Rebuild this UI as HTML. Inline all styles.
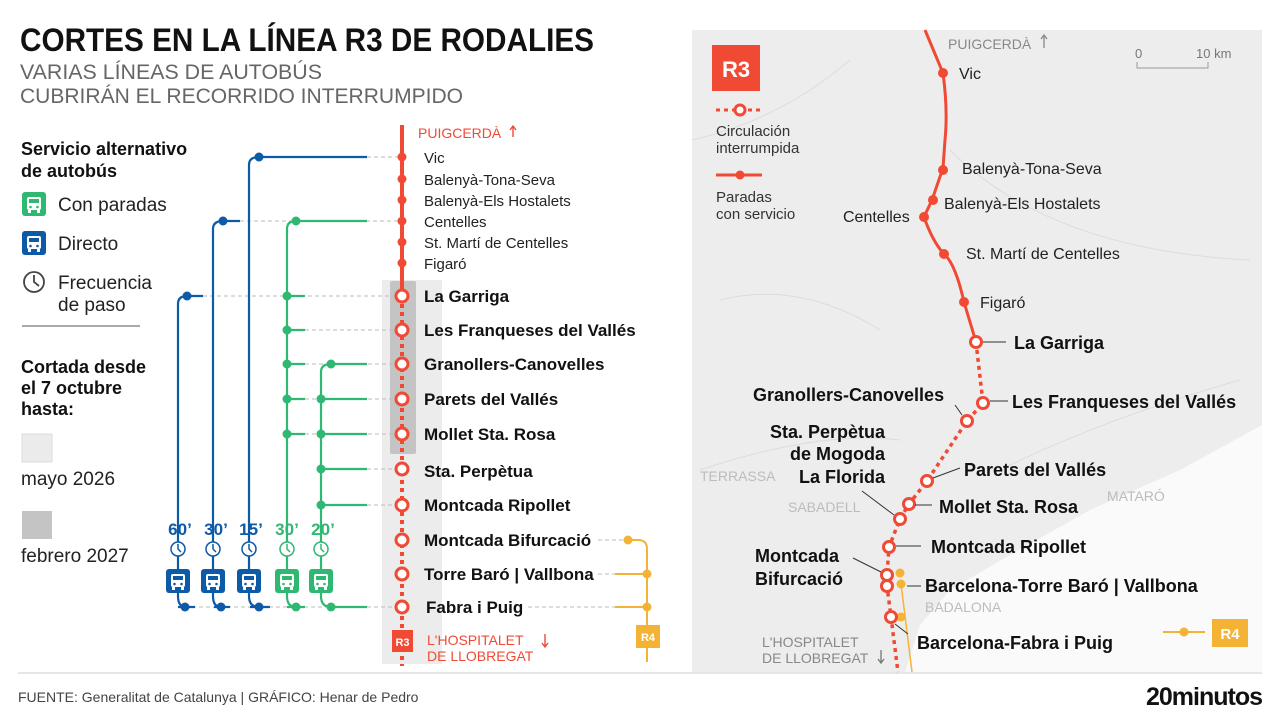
<!DOCTYPE html>
<html><head><meta charset="utf-8"><style>
html,body{margin:0;padding:0;background:#fff}
svg{display:block}
text{font-family:"Liberation Sans",sans-serif}
</style></head><body>
<svg width="1280" height="720" viewBox="0 0 1280 720" xmlns="http://www.w3.org/2000/svg">
<defs>
<g id="busB"><rect x="-12" y="-12" width="24" height="24" rx="3" fill="#0d5aa7"/><rect x="-7" y="-7" width="14" height="13" rx="2" fill="#fff"/><rect x="-5" y="-5" width="10" height="4" fill="#0d5aa7"/><circle cx="-3.5" cy="3" r="1.3" fill="#0d5aa7"/><circle cx="3.5" cy="3" r="1.3" fill="#0d5aa7"/><rect x="-6" y="6" width="3" height="3" fill="#fff"/><rect x="3" y="6" width="3" height="3" fill="#fff"/></g>
<g id="busG"><rect x="-12" y="-12" width="24" height="24" rx="3" fill="#2eb872"/><rect x="-7" y="-7" width="14" height="13" rx="2" fill="#fff"/><rect x="-5" y="-5" width="10" height="4" fill="#2eb872"/><circle cx="-3.5" cy="3" r="1.3" fill="#2eb872"/><circle cx="3.5" cy="3" r="1.3" fill="#2eb872"/><rect x="-6" y="6" width="3" height="3" fill="#fff"/><rect x="3" y="6" width="3" height="3" fill="#fff"/></g>
</defs>

<!-- Title -->
<text x="20" y="51" font-size="32" font-weight="bold" fill="#111" textLength="574" lengthAdjust="spacingAndGlyphs">CORTES EN LA LÍNEA R3 DE RODALIES</text>
<text x="20" y="79" font-size="21" fill="#666" textLength="302" lengthAdjust="spacingAndGlyphs">VARIAS LÍNEAS DE AUTOBÚS</text>
<text x="20" y="103" font-size="21" fill="#666" textLength="443" lengthAdjust="spacingAndGlyphs">CUBRIRÁN EL RECORRIDO INTERRUMPIDO</text>

<!-- Legend left -->
<text x="21" y="155" font-size="18" font-weight="bold" fill="#111">Servicio alternativo</text>
<text x="21" y="177" font-size="18" font-weight="bold" fill="#111">de autobús</text>
<use href="#busG" x="34" y="204"/>
<text x="58" y="211" font-size="19" fill="#222">Con paradas</text>
<use href="#busB" x="34" y="243"/>
<text x="58" y="250" font-size="19" fill="#222">Directo</text>
<circle cx="34" cy="282" r="10" fill="none" stroke="#444" stroke-width="1.8"/><path d="M34 275v7l5 4" fill="none" stroke="#444" stroke-width="1.8"/>
<text x="58" y="289" font-size="19" fill="#222">Frecuencia</text>
<text x="58" y="311" font-size="19" fill="#222">de paso</text>
<line x1="22" y1="326" x2="140" y2="326" stroke="#555" stroke-width="1"/>
<text x="21" y="373" font-size="18" font-weight="bold" fill="#111">Cortada desde</text>
<text x="21" y="394" font-size="18" font-weight="bold" fill="#111">el 7 octubre</text>
<text x="21" y="415" font-size="18" font-weight="bold" fill="#111">hasta:</text>
<rect x="22" y="434" width="30" height="28" fill="#ebebeb" stroke="#ddd"/>
<text x="21" y="485" font-size="19" fill="#222">mayo 2026</text>
<rect x="22" y="511" width="30" height="28" fill="#c4c4c4"/>
<text x="21" y="562" font-size="19" fill="#222">febrero 2027</text>

<!-- gray bands -->
<rect x="382" y="280" width="60" height="384" fill="#ececec"/>
<rect x="390" y="281" width="26" height="173" rx="2" fill="#c4c4c4"/>

<!-- dashed gray connectors -->
<g stroke="#bbb" stroke-width="1" stroke-dasharray="4 3">
<line x1="367" y1="157" x2="398" y2="157"/>
<line x1="240" y1="221" x2="398" y2="221"/>
<line x1="203" y1="296" x2="396" y2="296"/>
<line x1="305" y1="330" x2="396" y2="330"/>
<line x1="305" y1="364" x2="396" y2="364"/>
<line x1="305" y1="399" x2="396" y2="399"/>
<line x1="305" y1="434" x2="396" y2="434"/>
<line x1="367" y1="469" x2="396" y2="469"/>
<line x1="367" y1="505" x2="396" y2="505"/>
<line x1="178" y1="607" x2="396" y2="607"/>
<line x1="598" y1="540" x2="628" y2="540"/>
<line x1="598" y1="574" x2="615" y2="574"/>
<line x1="528" y1="607" x2="615" y2="607"/>
</g>

<!-- blue lines -->
<g stroke="#0d5aa7" stroke-width="2.2" fill="none">
<path d="M178 570V304q0-8 9-8h16"/>
<path d="M213 570V229q0-8 10-8h17"/>
<path d="M249 570V165q0-8 10-8h108"/>
<path d="M178 582v14q0 11 8 11"/><path d="M213 582v14q0 11 8 11"/><path d="M249 582v14q0 11 10 11"/>
<line x1="178" y1="607" x2="195" y2="607"/><line x1="214" y1="607" x2="230" y2="607"/><line x1="250" y1="607" x2="270" y2="607"/>
</g>
<g fill="#0d5aa7"><circle cx="187" cy="296" r="4.5"/><circle cx="223" cy="221" r="4.5"/><circle cx="259" cy="157" r="4.5"/><circle cx="185" cy="607" r="4.5"/><circle cx="221" cy="607" r="4.5"/><circle cx="259" cy="607" r="4.5"/></g>

<!-- green lines -->
<g stroke="#2eb872" stroke-width="2.2" fill="none">
<path d="M287 570V229q0-8 9-8h71"/>
<path d="M321 570V372q0-8 10-8h36"/>
<line x1="287" y1="296" x2="305" y2="296"/><line x1="287" y1="330" x2="305" y2="330"/>
<line x1="287" y1="364" x2="305" y2="364"/><line x1="287" y1="399" x2="305" y2="399"/><line x1="287" y1="434" x2="305" y2="434"/>
<line x1="321" y1="399" x2="367" y2="399"/><line x1="321" y1="434" x2="367" y2="434"/>
<line x1="321" y1="469" x2="367" y2="469"/><line x1="321" y1="505" x2="367" y2="505"/>
<path d="M287 582v14q0 11 9 11"/><path d="M321 582v14q0 11 10 11h36"/>
<line x1="287" y1="607" x2="305" y2="607"/>
</g>
<g fill="#2eb872"><circle cx="296" cy="221" r="4.5"/><circle cx="287" cy="296" r="4.5"/><circle cx="287" cy="330" r="4.5"/><circle cx="287" cy="364" r="4.5"/><circle cx="287" cy="399" r="4.5"/><circle cx="287" cy="434" r="4.5"/><circle cx="331" cy="364" r="4.5"/><circle cx="321" cy="399" r="4.5"/><circle cx="321" cy="434" r="4.5"/><circle cx="321" cy="469" r="4.5"/><circle cx="321" cy="505" r="4.5"/><circle cx="296" cy="607" r="4.5"/><circle cx="331" cy="607" r="4.5"/></g>

<!-- frequency labels, clocks, buses -->
<g font-size="17" font-weight="bold" text-anchor="middle">
<text x="180" y="535" fill="#0d5aa7">60’</text><text x="216" y="535" fill="#0d5aa7">30’</text><text x="251" y="535" fill="#0d5aa7">15’</text>
<text x="287" y="535" fill="#2eb872">30’</text><text x="323" y="535" fill="#2eb872">20’</text>
</g>
<g fill="#fff" stroke-width="1.5">
<circle cx="178" cy="549" r="7" stroke="#0d5aa7"/><circle cx="213" cy="549" r="7" stroke="#0d5aa7"/><circle cx="249" cy="549" r="7" stroke="#0d5aa7"/>
<circle cx="287" cy="549" r="7" stroke="#2eb872"/><circle cx="321" cy="549" r="7" stroke="#2eb872"/>
</g>
<g fill="none" stroke-width="1.5">
<path d="M178 544v5l3 3" stroke="#0d5aa7"/><path d="M213 544v5l3 3" stroke="#0d5aa7"/><path d="M249 544v5l3 3" stroke="#0d5aa7"/>
<path d="M287 544v5l3 3" stroke="#2eb872"/><path d="M321 544v5l3 3" stroke="#2eb872"/>
<line x1="178" y1="556" x2="178" y2="570" stroke="#0d5aa7"/><line x1="213" y1="556" x2="213" y2="570" stroke="#0d5aa7"/><line x1="249" y1="556" x2="249" y2="570" stroke="#0d5aa7"/>
<line x1="287" y1="556" x2="287" y2="570" stroke="#2eb872"/><line x1="321" y1="556" x2="321" y2="570" stroke="#2eb872"/>
</g>
<use href="#busB" x="178" y="581"/><use href="#busB" x="213" y="581"/><use href="#busB" x="249" y="581"/>
<use href="#busG" x="287" y="581"/><use href="#busG" x="321" y="581"/>

<!-- R3 line left -->
<line x1="402" y1="125" x2="402" y2="290" stroke="#f04a35" stroke-width="4"/>
<line x1="402" y1="296" x2="402" y2="666" stroke="#f04a35" stroke-width="4" stroke-dasharray="4 4"/>
<g fill="#f04a35"><circle cx="402" cy="157" r="4.5"/><circle cx="402" cy="179" r="4.5"/><circle cx="402" cy="200" r="4.5"/><circle cx="402" cy="221" r="4.5"/><circle cx="402" cy="242" r="4.5"/><circle cx="402" cy="263" r="4.5"/></g>
<g fill="#fff" stroke="#f04a35" stroke-width="3">
<circle cx="402" cy="296" r="6"/><circle cx="402" cy="330" r="6"/><circle cx="402" cy="364" r="6"/><circle cx="402" cy="399" r="6"/><circle cx="402" cy="434" r="6"/><circle cx="402" cy="469" r="6"/><circle cx="402" cy="505" r="6"/><circle cx="402" cy="540" r="6"/><circle cx="402" cy="574" r="6"/><circle cx="402" cy="607" r="6"/>
</g>
<text x="418" y="138" font-size="14" fill="#f04a35">PUIGCERDÀ</text>
<path d="M513 137v-11m-3 4l3-4l3 4" stroke="#f04a35" stroke-width="1.4" fill="none"/>
<g font-size="15" fill="#222">
<text x="424" y="163">Vic</text><text x="424" y="185">Balenyà-Tona-Seva</text><text x="424" y="206">Balenyà-Els Hostalets</text>
<text x="424" y="227">Centelles</text><text x="424" y="248">St. Martí de Centelles</text><text x="424" y="269">Figaró</text>
</g>
<g font-size="17" font-weight="bold" fill="#111">
<text x="424" y="302">La Garriga</text><text x="424" y="336">Les Franqueses del Vallés</text><text x="424" y="370">Granollers-Canovelles</text>
<text x="424" y="405">Parets del Vallés</text><text x="424" y="440">Mollet Sta. Rosa</text><text x="424" y="477">Sta. Perpètua</text>
<text x="424" y="511">Montcada Ripollet</text><text x="424" y="546">Montcada Bifurcació</text><text x="424" y="580">Torre Baró | Vallbona</text>
<text x="426" y="613">Fabra i Puig</text>
</g>
<rect x="392" y="630" width="21" height="22" fill="#f04a35"/>
<text x="402.5" y="646" font-size="11" font-weight="bold" fill="#fff" text-anchor="middle">R3</text>
<text x="427" y="645" font-size="14" fill="#f04a35">L'HOSPITALET</text>
<text x="427" y="661" font-size="14" fill="#f04a35">DE LLOBREGAT</text>
<path d="M545 634v13m-3-4l3 4l3-4" stroke="#f04a35" stroke-width="1.4" fill="none"/>

<!-- R4 left -->
<g stroke="#f5b335" stroke-width="2" fill="none">
<path d="M628 540h10q9 0 9 9V662"/>
<line x1="615" y1="574" x2="647" y2="574"/><line x1="615" y1="607" x2="647" y2="607"/>
</g>
<g fill="#f5b335"><circle cx="628" cy="540" r="4.5"/><circle cx="647" cy="574" r="4.5"/><circle cx="647" cy="607" r="4.5"/></g>
<rect x="636" y="625" width="24" height="23" fill="#f5b335"/>
<text x="648" y="641" font-size="11" font-weight="bold" fill="#fff" text-anchor="middle">R4</text>

<!-- MAP -->
<rect x="692" y="30" width="570" height="642" fill="#ededed"/>
<path d="M1262 425L1180 470L1090 510L1010 555L950 590L920 625L905 672H1262Z" fill="#fafafa"/>
<g stroke="#dcdcdc" stroke-width="1" fill="none">
<path d="M692 140Q780 120 850 60"/><path d="M700 470Q820 430 900 440"/><path d="M950 150Q1050 250 1250 260"/><path d="M720 300Q800 280 880 330"/><path d="M1000 470Q1100 420 1240 380"/>
</g>
<g font-size="14" fill="#bcbcbc">
<text x="700" y="481">TERRASSA</text><text x="788" y="512">SABADELL</text><text x="1107" y="501">MATARÓ</text><text x="925" y="612">BADALONA</text>
</g>
<text x="948" y="49" font-size="14" fill="#888">PUIGCERDÀ</text>
<path d="M1044 48v-13m-3 4l3-4l3 4" stroke="#888" stroke-width="1.3" fill="none"/>
<text x="1135" y="58" font-size="13" fill="#777">0</text><text x="1196" y="58" font-size="13" fill="#777">10 km</text>
<path d="M1137 62v6h71v-6" stroke="#999" stroke-width="1" fill="none"/>

<rect x="712" y="45" width="48" height="46" fill="#f04a35"/>
<text x="736" y="77" font-size="22" font-weight="bold" fill="#fff" text-anchor="middle">R3</text>
<line x1="716" y1="110" x2="762" y2="110" stroke="#f04a35" stroke-width="3" stroke-dasharray="4 4"/>
<circle cx="740" cy="110" r="5" fill="#fff" stroke="#f04a35" stroke-width="3"/>
<text x="716" y="136" font-size="15" fill="#333">Circulación</text><text x="716" y="153" font-size="15" fill="#333">interrumpida</text>
<line x1="716" y1="175" x2="762" y2="175" stroke="#f04a35" stroke-width="3"/><circle cx="740" cy="175" r="4.5" fill="#f04a35"/>
<text x="716" y="202" font-size="15" fill="#333">Paradas</text><text x="716" y="219" font-size="15" fill="#333">con servicio</text>

<path d="M925 30L943 73Q948 110 945 140L943 168L932 200L924 217Q932 240 943 253Q955 262 964 302L976 342" stroke="#f04a35" stroke-width="3" fill="none"/>
<path d="M976 342L983 403L967 421L927 481L909 504L900 519L889 547L887 575L887 586L891 617L898 672" stroke="#f04a35" stroke-width="3.5" fill="none" stroke-dasharray="4 4"/>
<path d="M901 584L912 672" stroke="#f5b335" stroke-width="1.5"/>
<g fill="#f5b335"><circle cx="900" cy="573" r="4.5"/><circle cx="901" cy="584" r="4.5"/><circle cx="901" cy="617" r="4.5"/></g>
<g fill="#f04a35"><circle cx="943" cy="73" r="5"/><circle cx="943" cy="170" r="5"/><circle cx="933" cy="200" r="5"/><circle cx="924" cy="217" r="5"/><circle cx="944" cy="254" r="5"/><circle cx="964" cy="302" r="5"/></g>
<g fill="#fff" stroke="#f04a35" stroke-width="3">
<circle cx="976" cy="342" r="5.5"/><circle cx="983" cy="403" r="5.5"/><circle cx="967" cy="421" r="5.5"/><circle cx="927" cy="481" r="5.5"/><circle cx="909" cy="504" r="5.5"/><circle cx="900" cy="519" r="5.5"/><circle cx="889" cy="547" r="5.5"/><circle cx="887" cy="575" r="5.5"/><circle cx="887" cy="586" r="5.5"/><circle cx="891" cy="617" r="5.5"/>
</g>
<g stroke="#333" stroke-width="1">
<line x1="983" y1="342" x2="1006" y2="342"/><line x1="990" y1="401" x2="1008" y2="401"/><line x1="955" y1="405" x2="962" y2="415"/>
<line x1="933" y1="478" x2="960" y2="468"/><line x1="915" y1="505" x2="932" y2="505"/><line x1="862" y1="491" x2="894" y2="515"/>
<line x1="896" y1="546" x2="921" y2="546"/><line x1="853" y1="558" x2="881" y2="572"/><line x1="907" y1="586" x2="921" y2="586"/><line x1="895" y1="624" x2="908" y2="634"/>
</g>
<g font-size="16" fill="#222">
<text x="959" y="79">Vic</text><text x="962" y="174">Balenyà-Tona-Seva</text><text x="944" y="209">Balenyà-Els Hostalets</text>
<text x="843" y="222">Centelles</text><text x="966" y="259">St. Martí de Centelles</text><text x="980" y="308">Figaró</text>
</g>
<g font-size="18" font-weight="bold" fill="#111">
<text x="1014" y="349">La Garriga</text><text x="1012" y="408">Les Franqueses del Vallés</text>
<text x="753" y="401">Granollers-Canovelles</text>
<text x="885" y="438" text-anchor="end">Sta. Perpètua</text><text x="885" y="460" text-anchor="end">de Mogoda</text><text x="885" y="483" text-anchor="end">La Florida</text>
<text x="964" y="476">Parets del Vallés</text><text x="939" y="513">Mollet Sta. Rosa</text>
<text x="931" y="553">Montcada Ripollet</text>
<text x="755" y="562">Montcada</text><text x="755" y="585">Bifurcació</text>
<text x="925" y="592">Barcelona-Torre Baró | Vallbona</text>
<text x="917" y="649">Barcelona-Fabra i Puig</text>
</g>
<text x="762" y="647" font-size="14" fill="#888">L'HOSPITALET</text><text x="762" y="663" font-size="14" fill="#888">DE LLOBREGAT</text>
<path d="M881 650v13m-3-4l3 4l3-4" stroke="#777" stroke-width="1.3" fill="none"/>
<line x1="1163" y1="632" x2="1205" y2="632" stroke="#f5b335" stroke-width="2"/><circle cx="1184" cy="632" r="4.5" fill="#f5b335"/>
<rect x="1212" y="619" width="36" height="28" fill="#f5b335"/>
<text x="1230" y="639" font-size="15" font-weight="bold" fill="#fff" text-anchor="middle">R4</text>

<!-- footer -->
<line x1="18" y1="673" x2="1262" y2="673" stroke="#ccc" stroke-width="1"/>
<text x="18" y="702" font-size="14" fill="#444">FUENTE: Generalitat de Catalunya  |  GRÁFICO: Henar de Pedro</text>
<text x="1262" y="705" font-size="25" font-weight="bold" fill="#111" text-anchor="end" letter-spacing="-1">20minutos</text>
</svg>
</body></html>
